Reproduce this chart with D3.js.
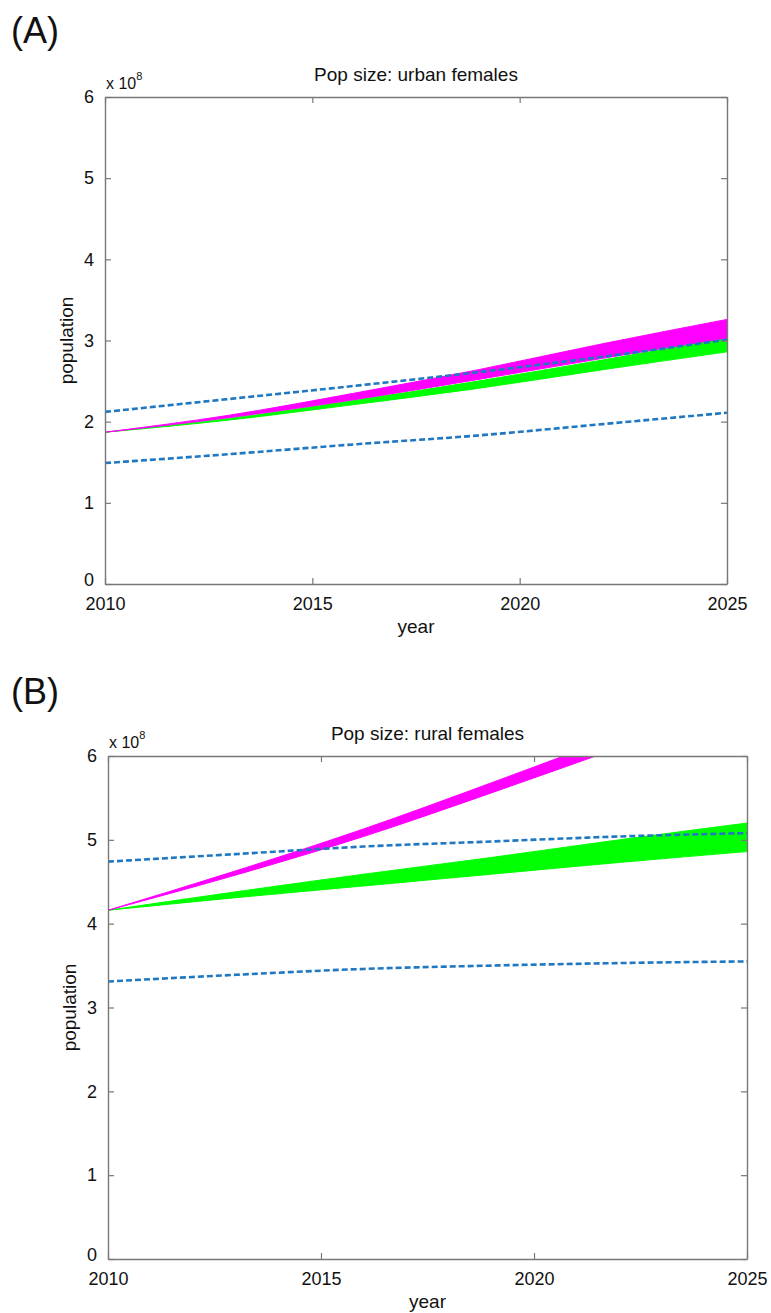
<!DOCTYPE html>
<html>
<head>
<meta charset="utf-8">
<script src="https://cdn.jsdelivr.net/npm/d3@7"></script>
<style>
    body { margin: 0; background: #fff; }
    text { font-family: "Liberation Sans", Arial, sans-serif; fill: #111; }
</style>
</head>
<body>
<svg width="771" height="1313"></svg>
<script>
// values are population in units of 1e8
const years = [2010, 2013, 2016, 2019, 2022, 2025];

// (A) urban females
const urbanMagentaHigh = [1.87, 2.08, 2.35, 2.64, 2.96, 3.26];
const urbanMagentaLow = [1.87, 2.05, 2.27, 2.52, 2.78, 3.03];
const urbanGreenHigh = [1.87, 2.04, 2.26, 2.50, 2.76, 3.03];
const urbanGreenLow = [1.87, 2.02, 2.21, 2.41, 2.64, 2.86];
const urbanBoundHigh = [2.12, 2.28, 2.44, 2.61, 2.80, 3.01];
const urbanBoundLow = [1.49, 1.60, 1.72, 1.83, 1.97, 2.11];

// (B) rural females
const ruralMagentaYears = [2010, 2013, 2016, 2019, 2022];
const ruralMagentaHigh = [4.16, 4.63, 5.13, 5.68, 6.25];
const ruralMagentaLow = [4.16, 4.58, 5.04, 5.56, 6.10];
const ruralGreenHigh = [4.16, 4.38, 4.59, 4.79, 5.00, 5.20];
const ruralGreenLow = [4.16, 4.31, 4.45, 4.59, 4.73, 4.86];
const ruralBoundHigh = [4.74, 4.83, 4.92, 4.98, 5.04, 5.08];
const ruralBoundLow = [3.31, 3.39, 3.46, 3.50, 3.53, 3.55];

const xTicks = [2010, 2015, 2020, 2025];
const yTicks = [0, 1, 2, 3, 4, 5, 6];

let svg = d3.select("svg");

let panels = [
    {
        id: "a", tag: "(A)", title: "Pop size: urban females",
        left: 105, right: 727, top: 97, bottom: 584, tagY: 43,
        magenta: {years: years, high: urbanMagentaHigh, low: urbanMagentaLow},
        green: {years: years, high: urbanGreenHigh, low: urbanGreenLow},
        bounds: [urbanBoundHigh, urbanBoundLow]
    },
    {
        id: "b", tag: "(B)", title: "Pop size: rural females",
        left: 108, right: 747, top: 756, bottom: 1259, tagY: 704,
        magenta: {years: ruralMagentaYears, high: ruralMagentaHigh, low: ruralMagentaLow},
        green: {years: years, high: ruralGreenHigh, low: ruralGreenLow},
        bounds: [ruralBoundHigh, ruralBoundLow]
    }
];

panels.forEach(function (p) {
    let x = d3.scaleLinear().domain([2010, 2025]).range([p.left, p.right]);
    let y = d3.scaleLinear().domain([0, 6]).range([p.bottom, p.top]);
    let g = svg.append("g");

    g.append("clipPath").attr("id", "clip-" + p.id)
        .append("rect")
        .attr("x", p.left).attr("y", p.top)
        .attr("width", p.right - p.left).attr("height", p.bottom - p.top);

    let plot = g.append("g").attr("clip-path", "url(#clip-" + p.id + ")");

    // bundles of simulated trajectories drawn as their envelope
    function band(b, color) {
        let rows = b.years.map(function (yr, i) { return {yr: yr, hi: b.high[i], lo: b.low[i]}; });
        plot.append("path")
            .datum(rows)
            .attr("fill", color)
            .attr("stroke", color)
            .attr("stroke-width", 1)
            .attr("d", d3.area()
                .x(function (d) { return x(d.yr); })
                .y0(function (d) { return y(d.lo); })
                .y1(function (d) { return y(d.hi); })
                .curve(d3.curveMonotoneX));
    }
    band(p.green, "#00ff00");
    band(p.magenta, "#ff00ff");

    p.bounds.forEach(function (vals) {
        plot.append("path")
            .datum(vals)
            .attr("fill", "none")
            .attr("stroke", "#1f78c1")
            .attr("stroke-width", 2.6)
            .attr("stroke-dasharray", "6,3")
            .attr("d", d3.line()
                .x(function (d, i) { return x(years[i]); })
                .y(function (d) { return y(d); })
                .curve(d3.curveMonotoneX));
    });

    // box with inward ticks on all four sides
    let axisColor = "#777";
    g.append("g").attr("transform", "translate(0," + p.bottom + ")")
        .call(d3.axisBottom(x).tickValues(xTicks).tickFormat(d3.format("d")).tickSizeInner(-6).tickSizeOuter(0).tickPadding(13));
    g.append("g").attr("transform", "translate(0," + p.top + ")")
        .call(d3.axisTop(x).tickValues(xTicks).tickFormat("").tickSizeInner(-6).tickSizeOuter(0));
    let yAxis = g.append("g").attr("transform", "translate(" + p.left + ",0)")
        .call(d3.axisLeft(y).tickValues(yTicks).tickFormat(d3.format("d")).tickSizeInner(-6).tickSizeOuter(0).tickPadding(11));
    g.append("g").attr("transform", "translate(" + p.right + ",0)")
        .call(d3.axisRight(y).tickValues(yTicks).tickFormat("").tickSizeInner(-6).tickSizeOuter(0));

    g.selectAll(".domain").attr("stroke", axisColor).attr("stroke-width", 1.4);
    g.selectAll(".tick line").attr("stroke", axisColor).attr("stroke-width", 1.2);
    g.selectAll(".tick text").attr("font-size", 18).attr("font-family", "Liberation Sans, Arial, sans-serif").attr("fill", "#111");
    // the zero label sits a little higher so it clears the first year
    yAxis.selectAll(".tick text").filter(function (d) { return d === 0; }).attr("dy", "0.1em");

    // labels
    g.append("text").attr("x", 11).attr("y", p.tagY).attr("font-size", 36).text(p.tag);
    g.append("text").attr("x", (p.left + p.right) / 2).attr("y", p.top - 16)
        .attr("text-anchor", "middle").attr("font-size", 19).text(p.title);

    let mult = g.append("text").attr("x", p.left + 1).attr("y", p.top - 8).attr("font-size", 16);
    mult.append("tspan").text("x 10");
    mult.append("tspan").attr("dy", -9).attr("font-size", 11).text("8");

    g.append("text").attr("x", (p.left + p.right) / 2).attr("y", p.bottom + 49)
        .attr("text-anchor", "middle").attr("font-size", 19).text("year");
    g.append("text")
        .attr("transform", "translate(" + (p.left - 32) + "," + ((p.top + p.bottom) / 2) + ") rotate(-90)")
        .attr("text-anchor", "middle").attr("font-size", 19).text("population");
});
</script>
</body>
</html>
